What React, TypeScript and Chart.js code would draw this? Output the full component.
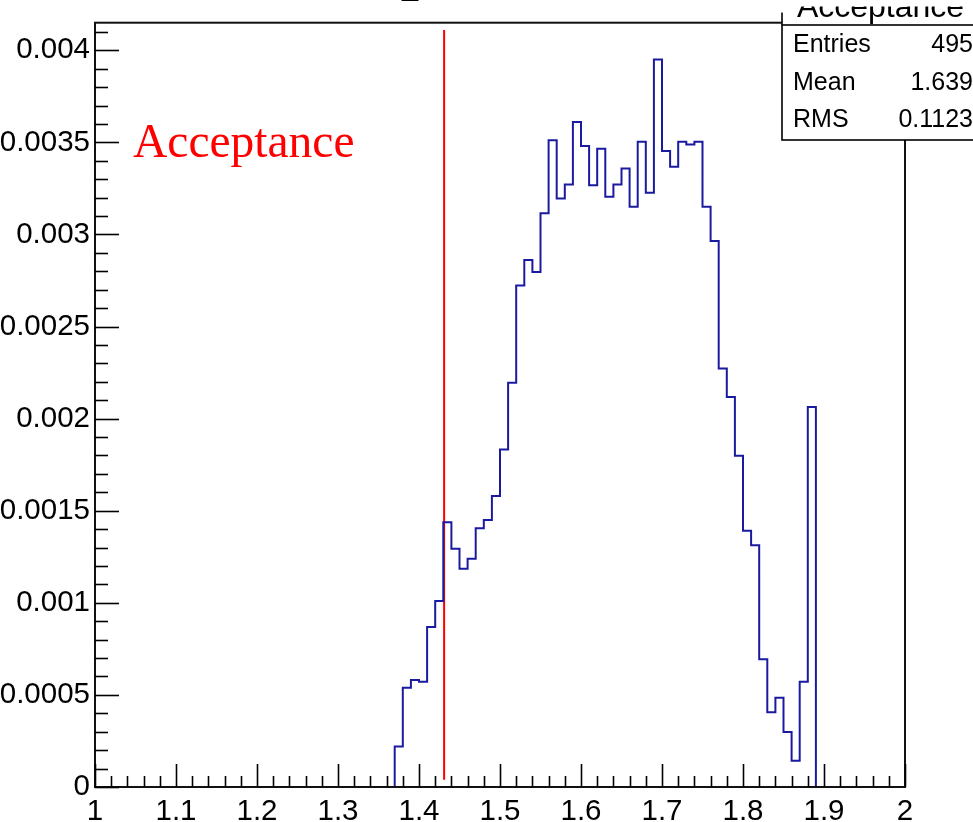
import React, { useEffect, useRef } from "react";
import { Chart, registerables } from "chart.js";

Chart.register(...registerables);

// ---- data ----
const binStart = 1.37;
const binWidth = 0.01;
const binValues = [
  0.00022, 0.000539, 0.000581, 0.000571, 0.000869, 0.00101, 0.001437, 0.001293,
  0.001185, 0.001239, 0.001405, 0.00145, 0.00158, 0.001832, 0.002195, 0.002723,
  0.002862, 0.002797, 0.003115, 0.003512, 0.003196, 0.003272, 0.003611, 0.003481,
  0.003268, 0.003465, 0.003205, 0.003272, 0.003358, 0.003151, 0.003503, 0.003227,
  0.00395, 0.003454, 0.003368, 0.003503, 0.003489, 0.003503, 0.003151, 0.002965,
  0.002273, 0.002117, 0.001798, 0.001392, 0.001313, 0.000693, 0.000406, 0.000485,
  0.000298, 0.000142, 0.000571, 0.002063,
];
const xTicks = [1, 1.1, 1.2, 1.3, 1.4, 1.5, 1.6, 1.7, 1.8, 1.9, 2];
const xTickLabels = ["1", "1.1", "1.2", "1.3", "1.4", "1.5", "1.6", "1.7", "1.8", "1.9", "2"];
const yTicks = [0, 0.0005, 0.001, 0.0015, 0.002, 0.0025, 0.003, 0.0035, 0.004];
const yTickLabels = ["0", "0.0005", "0.001", "0.0015", "0.002", "0.0025", "0.003", "0.0035", "0.004"];
const xMin = 1;
const xMax = 2;
const yMin = 0;
const yMax = 0.00415;
const cutX = 1.431;
const cutY = [0.00004, 0.00411];
const annotationText = "Acceptance";
const statsTitle = "Acceptance";
const statsLabels = ["Entries", "Mean", "RMS"];
const statsValues = ["495", "1.639", "0.1123"];
const plotTitle = "_";

const SANS = "'Liberation Sans', Arial, Helvetica, sans-serif";
const SERIF = "'Liberation Serif', 'Times New Roman', serif";

const rootPlugin = {
  id: "rootStyle",
  afterDraw(chart: any) {
    const ctx = chart.ctx;
    const { left, right, top, bottom } = chart.chartArea;
    const xs = chart.scales.x;
    const ys = chart.scales.y;
    ctx.save();
    // frame
    ctx.strokeStyle = "#111";
    ctx.lineWidth = 2;
    ctx.strokeRect(left, top, right - left, bottom - top);
    // x ticks (inward)
    ctx.lineWidth = 1.6;
    ctx.strokeStyle = "#000";
    for (let i = 0; i <= 50; i++) {
      const v = xMin + i * 0.02;
      const px = Math.round(xs.getPixelForValue(v)) + 0.5;
      const len = i % 5 === 0 ? 23 : 11;
      ctx.beginPath();
      ctx.moveTo(px, bottom);
      ctx.lineTo(px, bottom - len);
      ctx.stroke();
    }
    // y ticks (inward)
    for (let i = 0; i <= 41; i++) {
      const v = i * 0.0001;
      const py = Math.round(ys.getPixelForValue(v)) + 0.5;
      const len = i % 5 === 0 ? 24 : 13;
      ctx.beginPath();
      ctx.moveTo(left, py);
      ctx.lineTo(left + len, py);
      ctx.stroke();
    }
    // annotation text
    ctx.fillStyle = "#ff0000";
    ctx.font = `47.5px ${SERIF}`;
    ctx.textAlign = "left";
    ctx.textBaseline = "alphabetic";
    ctx.fillText(annotationText, 133, 157);

    // cut-off plot title
    ctx.fillStyle = "#000";
    ctx.font = `29px ${SANS}`;
    ctx.fillText(plotTitle, 402, -5);

    // stats box
    const bx = 782;
    ctx.fillStyle = "#fff";
    ctx.fillRect(bx, -10, 220, 150);
    ctx.strokeStyle = "#000";
    ctx.lineWidth = 1.6;
    // title box (only lower part visible)
    ctx.beginPath();
    ctx.moveTo(bx, 12.5);
    ctx.lineTo(bx, 25);
    ctx.stroke();
    ctx.strokeRect(bx, 25, 220, 115);
    ctx.save();
    ctx.beginPath();
    ctx.rect(bx + 2, 6.5, 200, 18);
    ctx.clip();
    ctx.fillStyle = "#000";
    ctx.font = `32px ${SANS}`;
    ctx.textAlign = "center";
    ctx.textBaseline = "alphabetic";
    ctx.fillText(statsTitle, 880.5, 16.5);
    ctx.restore();

    ctx.fillStyle = "#000";
    ctx.font = `25px ${SANS}`;
    ctx.textBaseline = "middle";
    const rowsY = [45, 83, 120];
    statsLabels.forEach((lab, i) => {
      ctx.textAlign = "left";
      ctx.fillText(lab, 793, rowsY[i]);
      ctx.textAlign = "right";
      ctx.fillText(statsValues[i], 973, rowsY[i]);
    });
    ctx.restore();
  },
};

export default function App() {
  const ref = useRef<HTMLCanvasElement | null>(null);
  useEffect(() => {
    if (!ref.current) return;
    const histPoints: { x: number; y: number }[] = [{ x: binStart, y: 0 }];
    binValues.forEach((v, i) => histPoints.push({ x: binStart + i * binWidth, y: v }));
    histPoints.push({ x: binStart + binValues.length * binWidth, y: 0 });
    const cutPoints = cutY.map((y) => ({ x: cutX, y }));

    const chart = new Chart(ref.current, {
      type: "line",
      data: {
        datasets: [
          {
            data: histPoints,
            stepped: "before",
            borderColor: "#1a1aa0",
            borderWidth: 2,
            pointRadius: 0,
            fill: false,
          },
          {
            data: cutPoints,
            borderColor: "#ff0000",
            borderWidth: 2,
            pointRadius: 0,
            fill: false,
          },
        ],
      },
      options: {
        animation: false,
        responsive: false,
        devicePixelRatio: 1,
        layout: { padding: { top: 20.7, right: 68, left: 0, bottom: 0 } },
        plugins: { legend: { display: false }, tooltip: { enabled: false } },
        scales: {
          x: {
            type: "linear",
            min: xMin,
            max: xMax,
            afterBuildTicks: (s: any) => {
              s.ticks = xTicks.map((v) => ({ value: v }));
            },
            afterFit: (s: any) => {
              s.height = 35;
            },
            grid: { display: false, drawTicks: false },
            border: { display: false },
            ticks: {
              autoSkip: false,
              maxRotation: 0,
              padding: 7,
              color: "#000",
              font: { family: SANS, size: 29.5 },
              callback: (_v: any, i: number) => xTickLabels[i],
            },
          },
          y: {
            type: "linear",
            min: yMin,
            max: yMax,
            afterBuildTicks: (s: any) => {
              s.ticks = yTicks.map((v) => ({ value: v }));
            },
            afterFit: (s: any) => {
              s.width = 95;
            },
            grid: { display: false, drawTicks: false },
            border: { display: false },
            ticks: {
              autoSkip: false,
              padding: 5,
              color: "#000",
              font: { family: SANS, size: 29.5 },
              callback: (_v: any, i: number) => yTickLabels[i],
            },
          },
        },
      },
      plugins: [rootPlugin],
    });
    return () => chart.destroy();
  }, []);

  return (
    <div style={{ position: "absolute", left: 0, top: 0, width: 973, height: 822, background: "#fff" }}>
      <canvas ref={ref} width={973} height={822} style={{ width: 973, height: 822, display: "block" }} />
    </div>
  );
}
